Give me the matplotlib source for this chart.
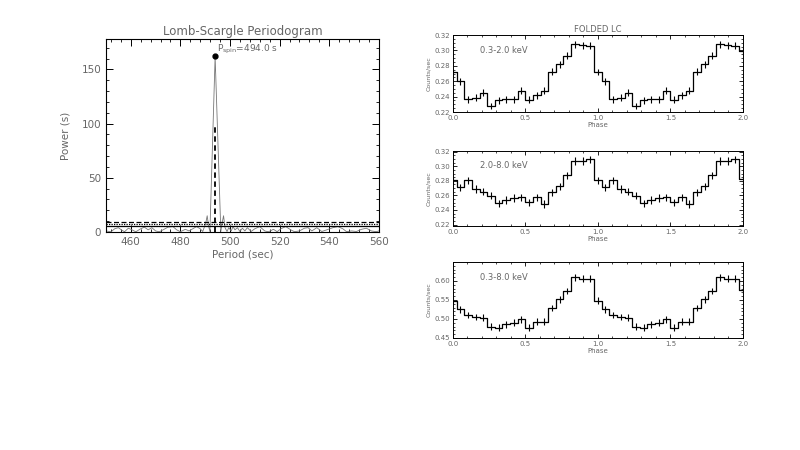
import numpy as np
import matplotlib
matplotlib.use("Agg")
import matplotlib.pyplot as plt
from matplotlib.ticker import MultipleLocator

# ---------------- data ----------------
# Lomb-Scargle periodogram (period in s, power)
ls_period = [450, 452, 453.5, 455, 456.5, 457.5, 459, 460.5, 462, 464, 465.5, 467,
             468.5, 470, 471.5, 473, 475, 477, 478.5, 480, 482, 483.5, 485, 486.5,
             488, 489, 490.2, 490.8, 491.4, 491.9, 494.0, 496.3, 496.8, 497.4, 498,
             498.8, 499.5, 500.5, 501.2, 502, 503, 504, 505, 506, 507, 508.5, 510,
             512, 514, 515.5, 517.5, 519, 520.5, 522.5, 524.5, 526, 528, 530, 531.5,
             533, 535, 537, 539, 541.5, 543.5, 545.5, 547, 549, 551, 553, 555, 557,
             559, 560]
ls_power = [1.0, 0.2, 3.0, 4.0, 1.5, 0.3, 3.5, 2.0, 0.2, 3.0, 4.5, 2.0,
            4.0, 1.0, 0.2, 2.0, 4.5, 5.0, 2.0, 0.3, 2.5, 1.0, 3.0, 5.0,
            3.0, 0.5, 8.0, 15.0, 5.0, 0.5, 162.0, 0.5, 8.0, 15.0, 4.0,
            0.5, 4.0, 1.0, 5.0, 2.0, 4.0, 0.5, 3.5, 1.0, 4.0, 0.5, 3.0,
            5.0, 1.0, 0.2, 2.5, 0.3, 3.0, 5.0, 2.0, 0.3, 1.0, 3.5, 4.0,
            1.0, 4.0, 0.5, 2.0, 4.0, 5.0, 3.0, 0.3, 1.0, 0.5, 2.5, 3.5, 1.0,
            0.3, 1.0]
peak_period = 494.0
peak_power = 162.0
peak_marker_top = 100.0
sig_levels = [9.0, 7.0, 5.4]          # dashed, dotted, solid

# Folded light curves: 19 phase bins per cycle, shown over two cycles
nbins = 19
lc1_cycle = [0.272, 0.260, 0.2365, 0.2387, 0.2452, 0.2278, 0.2352, 0.2365, 0.2365,
             0.2474, 0.2357, 0.2417, 0.2474, 0.2722, 0.2822, 0.293, 0.3083, 0.307, 0.306]
lc1_end = 0.299
lc2_cycle = [0.2809, 0.2709, 0.2809, 0.2686, 0.265, 0.2595, 0.2491, 0.2536, 0.2564,
             0.2573, 0.2505, 0.2573, 0.2482, 0.2641, 0.2723, 0.2877, 0.3073, 0.3073, 0.3095]
lc2_end = 0.282
lc3_cycle = [0.5486, 0.525, 0.5104, 0.5052, 0.5035, 0.4799, 0.4773, 0.486, 0.4904,
             0.499, 0.4773, 0.493, 0.493, 0.5295, 0.5513, 0.573, 0.6097, 0.6062, 0.6062]
lc3_end = 0.575
lc_err = [0.0045, 0.0050, 0.0085]
lc_labels = ["0.3-2.0 keV", "2.0-8.0 keV", "0.3-8.0 keV"]
lc_ylims = [(0.22, 0.32), (0.218, 0.321), (0.45, 0.65)]
lc_yticks = [[0.22, 0.24, 0.26, 0.28, 0.30, 0.32],
             [0.22, 0.24, 0.26, 0.28, 0.30, 0.32],
             [0.45, 0.50, 0.55, 0.60]]

TXT = "#666666"

fig = plt.figure(figsize=(8, 4.5), dpi=100)

# ---------------- periodogram ----------------
ax = fig.add_axes([0.1325, 0.4844, 0.341, 0.4289])
ax.plot(ls_period, ls_power, color="#777777", lw=0.6)
ax.plot([peak_period, peak_period], [0, peak_marker_top], color="k", lw=1.3,
        ls=(0, (3, 2)))
ax.plot([peak_period], [peak_power], "o", color="k", ms=3.5)
ax.text(peak_period + 0.8, peak_power, r"P$_{\rm spin}$=494.0 s", fontsize=6.5,
        color=TXT, va="bottom", ha="left")
ax.axhline(sig_levels[0], color="k", lw=0.9, ls=(0, (4, 2)))
ax.axhline(sig_levels[1], color="k", lw=0.9, ls=(0, (1, 1)))
ax.axhline(sig_levels[2], color="k", lw=0.9, ls="-")
ax.set_xlim(450, 560)
ax.set_ylim(0, 178)
ax.xaxis.set_major_locator(MultipleLocator(20))
ax.xaxis.set_minor_locator(MultipleLocator(4))
ax.yaxis.set_major_locator(MultipleLocator(50))
ax.yaxis.set_minor_locator(MultipleLocator(10))
ax.tick_params(which="both", direction="in", top=True, right=True, colors="k",
               labelcolor=TXT, labelsize=7.5)
ax.tick_params(which="major", length=5, width=0.7)
ax.tick_params(which="minor", length=2.5, width=0.6)
ax.set_title("Lomb-Scargle Periodogram", fontsize=8.5, color=TXT, pad=3)
ax.set_xlabel("Period (sec)", fontsize=7.5, color=TXT, labelpad=2)
ax.set_ylabel("Power (s)", fontsize=7.5, color=TXT, labelpad=8)
for s in ax.spines.values():
    s.set_linewidth(0.8)

# ---------------- folded light curves ----------------
phase = np.arange(2 * nbins + 1) / nbins
curves = [lc1_cycle + lc1_cycle + [lc1_end],
          lc2_cycle + lc2_cycle + [lc2_end],
          lc3_cycle + lc3_cycle + [lc3_end]]
rects = [[0.566, 0.7511, 0.3625, 0.171],
         [0.566, 0.4978, 0.3625, 0.1667],
         [0.566, 0.2489, 0.3625, 0.169]]

for i in range(3):
    a = fig.add_axes(rects[i])
    y = curves[i]
    a.step(phase, y, where="mid", color="k", lw=0.9)
    a.errorbar(phase, y, yerr=lc_err[i], fmt="none", ecolor="k", elinewidth=0.8,
               capsize=0)
    a.set_xlim(0, 2)
    a.set_ylim(*lc_ylims[i])
    a.set_yticks(lc_yticks[i])
    a.set_yticklabels([f"{v:.2f}" for v in lc_yticks[i]])
    a.xaxis.set_major_locator(MultipleLocator(0.5))
    a.xaxis.set_minor_locator(MultipleLocator(0.1))
    a.yaxis.set_minor_locator(MultipleLocator(0.005 if i < 2 else 0.01))
    a.tick_params(which="both", direction="in", top=True, right=True, colors="k",
                  labelcolor=TXT, labelsize=5)
    a.tick_params(which="major", length=3, width=0.6, pad=2)
    a.tick_params(which="minor", length=1.5, width=0.5)
    a.set_xlabel("Phase", fontsize=5, color=TXT, labelpad=1)
    a.set_ylabel("Counts/sec", fontsize=4.5, color=TXT, labelpad=2)
    a.text(0.093, 0.80, lc_labels[i], transform=a.transAxes, fontsize=6,
           color=TXT, ha="left", va="center")
    for s in a.spines.values():
        s.set_linewidth(0.7)
    if i == 0:
        a.set_title("FOLDED LC", fontsize=6, color=TXT, pad=2)

fig.savefig("out.png", dpi=100)
